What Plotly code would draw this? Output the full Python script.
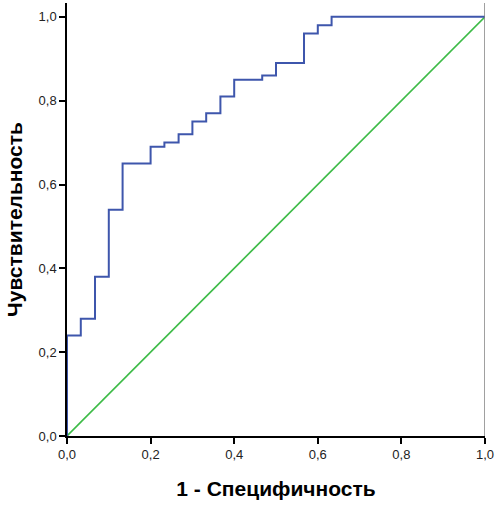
import plotly.graph_objects as go

blue = "#3E56AC"
green = "#3DBB47"
black = "#000000"

# ROC curve points (1 - specificity, sensitivity), drawn as steps
fpr = [0.0, 0.0, 0.033, 0.067, 0.100, 0.133, 0.200, 0.233, 0.267, 0.300,
       0.333, 0.367, 0.400, 0.467, 0.500, 0.567, 0.600, 0.633, 1.0]
tpr = [0.0, 0.24, 0.28, 0.38, 0.54, 0.65, 0.69, 0.70, 0.72, 0.75,
       0.77, 0.81, 0.85, 0.86, 0.89, 0.96, 0.98, 1.0, 1.0]

# reference line
ref_x = [0.0, 1.0]
ref_y = [0.0, 1.0]

tick_vals = [0.0, 0.2, 0.4, 0.6, 0.8, 1.0]
tick_text = ["0,0", "0,2", "0,4", "0,6", "0,8", "1,0"]

font = "Liberation Sans, Arial"

fig = go.Figure()

fig.add_trace(go.Scatter(x=ref_x, y=ref_y, mode="lines",
                         line=dict(color=green, width=1.6),
                         hoverinfo="skip", showlegend=False))

fig.add_trace(go.Scatter(x=fpr, y=tpr, mode="lines",
                         line=dict(color=blue, width=2, shape="hv"),
                         showlegend=False))

# thin grey frame line on the right
fig.add_shape(type="line", xref="x", yref="paper",
              x0=1, x1=1, y0=0, y1=1,
              line=dict(color="#808080", width=1.5))

fig.update_xaxes(range=[0, 1],
                 tickmode="array", tickvals=tick_vals, ticktext=tick_text,
                 ticks="outside", ticklen=6, tickwidth=1.5, tickcolor=black,
                 showline=True, linecolor=black, linewidth=1.5,
                 showgrid=False, zeroline=False,
                 tickfont=dict(family=font, size=13, color="#222222"),
                 title=dict(text="<b>1 - Специфичность</b>", standoff=20,
                            font=dict(family=font, size=21, color=black)))

fig.update_yaxes(range=[0, 1.033],
                 tickmode="array", tickvals=tick_vals, ticktext=tick_text,
                 ticks="outside", ticklen=6, tickwidth=1.5, tickcolor=black,
                 showline=True, linecolor=black, linewidth=1.5,
                 showgrid=False, zeroline=False,
                 tickfont=dict(family=font, size=13, color="#222222"),
                 title=dict(text="<b>Чувствительность</b>", standoff=10,
                            font=dict(family=font, size=21, color=black)))

fig.update_layout(width=497, height=507,
                  plot_bgcolor="white", paper_bgcolor="white",
                  margin=dict(l=67, r=12, t=3, b=71, pad=0))

fig.write_html("out.html", config={"displayModeBar": False},
               post_script="document.body.style.margin='0';")
